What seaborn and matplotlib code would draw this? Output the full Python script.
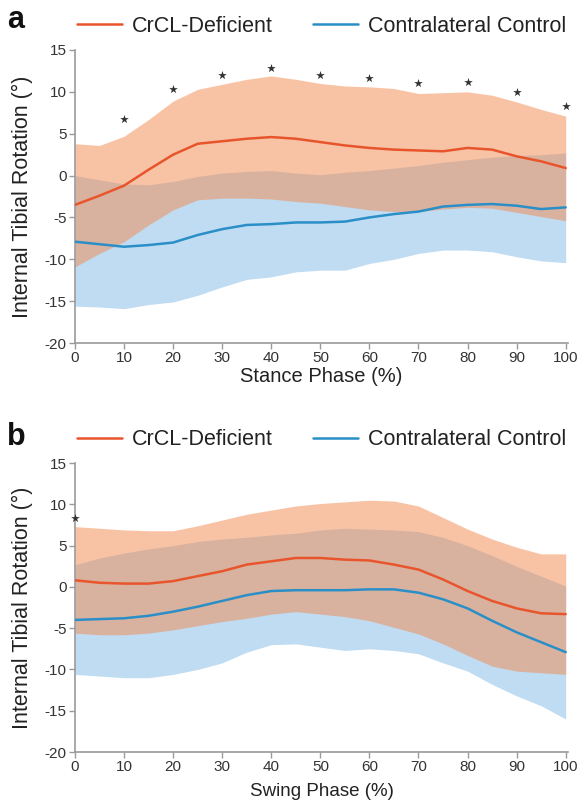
import numpy as np
import pandas as pd
import matplotlib
matplotlib.use("Agg")
import matplotlib.pyplot as plt
import seaborn as sns

# phase (%) sampled every 5 %
phase = [0, 5, 10, 15, 20, 25, 30, 35, 40, 45, 50, 55, 60, 65, 70, 75, 80, 85, 90, 95, 100]

# a: stance phase
crcl_mean_a = [-3.5, -2.4, -1.2, 0.7, 2.5, 3.8, 4.1, 4.4, 4.6, 4.4, 4.0, 3.6, 3.3, 3.1, 3.0, 2.9, 3.3, 3.1, 2.3, 1.7, 0.9]
crcl_upper_a = [3.8, 3.6, 4.7, 6.7, 8.9, 10.3, 10.9, 11.5, 11.9, 11.5, 11.0, 10.7, 10.6, 10.4, 9.8, 9.9, 10.0, 9.6, 8.8, 7.9, 7.1]
crcl_lower_a = [-10.9, -9.3, -7.9, -5.9, -4.1, -2.9, -2.7, -2.7, -2.8, -3.1, -3.3, -3.7, -4.1, -4.3, -4.3, -4.0, -3.8, -3.9, -4.4, -4.9, -5.4]
ctrl_mean_a = [-7.9, -8.2, -8.5, -8.3, -8.0, -7.1, -6.4, -5.9, -5.8, -5.6, -5.6, -5.5, -5.0, -4.6, -4.3, -3.7, -3.5, -3.4, -3.6, -4.0, -3.8]
ctrl_upper_a = [0.0, -0.5, -1.0, -1.1, -0.7, -0.1, 0.3, 0.5, 0.6, 0.3, 0.1, 0.4, 0.6, 0.9, 1.2, 1.6, 1.9, 2.2, 2.4, 2.5, 2.7]
ctrl_lower_a = [-15.6, -15.7, -15.9, -15.4, -15.1, -14.3, -13.3, -12.4, -12.1, -11.5, -11.3, -11.3, -10.5, -10.0, -9.3, -8.9, -8.9, -9.1, -9.7, -10.2, -10.4]
star_x_a = [10, 20, 30, 40, 50, 60, 70, 80, 90, 100]
star_y_a = [6.7, 10.4, 12.0, 12.8, 12.0, 11.6, 11.0, 11.2, 10.0, 8.3]

# b: swing phase
crcl_mean_b = [0.8, 0.5, 0.4, 0.4, 0.7, 1.3, 1.9, 2.7, 3.1, 3.5, 3.5, 3.3, 3.2, 2.7, 2.1, 0.9, -0.5, -1.7, -2.6, -3.2, -3.3]
crcl_upper_b = [7.3, 7.1, 6.9, 6.8, 6.8, 7.4, 8.1, 8.8, 9.3, 9.8, 10.1, 10.3, 10.5, 10.4, 9.8, 8.4, 7.0, 5.8, 4.8, 4.0, 4.0]
crcl_lower_b = [-5.6, -5.8, -5.8, -5.6, -5.2, -4.7, -4.2, -3.8, -3.3, -3.0, -3.3, -3.6, -4.1, -4.9, -5.7, -6.9, -8.3, -9.6, -10.2, -10.4, -10.6]
ctrl_mean_b = [-4.0, -3.9, -3.8, -3.5, -3.0, -2.4, -1.7, -1.0, -0.5, -0.4, -0.4, -0.4, -0.3, -0.3, -0.7, -1.5, -2.6, -4.1, -5.5, -6.7, -7.9]
ctrl_upper_b = [2.7, 3.5, 4.1, 4.6, 5.0, 5.5, 5.8, 6.0, 6.3, 6.5, 6.9, 7.1, 7.0, 6.9, 6.7, 6.0, 5.0, 3.8, 2.5, 1.3, 0.1]
ctrl_lower_b = [-10.6, -10.8, -11.0, -11.0, -10.6, -10.0, -9.2, -7.9, -7.0, -6.9, -7.3, -7.7, -7.5, -7.7, -8.1, -9.2, -10.2, -11.8, -13.2, -14.4, -16.0]
star_x_b = [0]
star_y_b = [8.4]

xticks = [0, 10, 20, 30, 40, 50, 60, 70, 80, 90, 100]
yticks = [-20, -15, -10, -5, 0, 5, 10, 15]

# colours
orange_line = '#E8552C'
orange_fill = '#F3894D'
blue_line = '#2B8FC7'
blue_fill = '#C0DCF2'
axis_grey = '#9A9A9A'

sns.set_style('ticks')
plt.rcParams['font.family'] = ['Liberation Sans', 'DejaVu Sans']
plt.rcParams['axes.unicode_minus'] = False

fig = plt.figure(figsize=(5.85, 8.05), dpi=100)
ax_a = fig.add_axes([0.1282, 0.5739, 0.843, 0.364])
ax_b = fig.add_axes([0.1282, 0.0658, 0.843, 0.359])


def draw_panel(ax, cr_mean, cr_up, cr_lo, cc_mean, cc_up, cc_lo, sx, sy, xlabel, xlabel_size, xlabel_pad):
    df = pd.DataFrame({'phase': phase, 'crcl': cr_mean, 'ctrl': cc_mean})
    ax.fill_between(phase, cc_lo, cc_up, color=blue_fill, linewidth=0, zorder=1)
    ax.fill_between(phase, cr_lo, cr_up, color=orange_fill, alpha=0.5, linewidth=0, zorder=2)
    sns.lineplot(data=df, x='phase', y='ctrl', color=blue_line, linewidth=1.8, ax=ax,
                 label='Contralateral Control', zorder=3)
    sns.lineplot(data=df, x='phase', y='crcl', color=orange_line, linewidth=1.8, ax=ax,
                 label='CrCL-Deficient', zorder=4)
    ax.scatter(sx, sy, marker='*', s=42, color='#333333', linewidths=0, zorder=5, clip_on=False)

    ax.set_xlim(0, 100.5)
    ax.set_ylim(-20, 15)
    ax.set_xticks(xticks)
    ax.set_yticks(yticks)
    sns.despine(ax=ax)
    for side in ['left', 'bottom']:
        ax.spines[side].set_color(axis_grey)
        ax.spines[side].set_linewidth(1.2)
    ax.tick_params(axis='both', colors=axis_grey, labelcolor='#333333', labelsize=11,
                   length=4, width=1, direction='out', pad=2)
    ax.set_xlabel(xlabel, fontsize=xlabel_size, color='#222222', labelpad=xlabel_pad)
    ax.set_ylabel('Internal Tibial Rotation (°)', fontsize=15.5, color='#222222')
    ax.yaxis.set_label_coords(-0.085, 0.5)

    handles, labels = ax.get_legend_handles_labels()
    order = [labels.index('CrCL-Deficient'), labels.index('Contralateral Control')]
    ax.legend([handles[i] for i in order], [labels[i] for i in order],
              loc='lower center', bbox_to_anchor=(0.5, 1.015), ncol=2, frameon=False,
              fontsize=15.5, handlelength=2.1, handletextpad=0.45, columnspacing=1.85,
              borderaxespad=0, labelcolor='#222222')


draw_panel(ax_a, crcl_mean_a, crcl_upper_a, crcl_lower_a, ctrl_mean_a, ctrl_upper_a, ctrl_lower_a,
           star_x_a, star_y_a, 'Stance Phase (%)', 14.5, 1)
draw_panel(ax_b, crcl_mean_b, crcl_upper_b, crcl_lower_b, ctrl_mean_b, ctrl_upper_b, ctrl_lower_b,
           star_x_b, star_y_b, 'Swing Phase (%)', 13.5, 6)

fig.text(0.012, 0.965, 'a', fontsize=22, fontweight='bold', color='#111111', va='baseline')
fig.text(0.012, 0.447, 'b', fontsize=22, fontweight='bold', color='#111111', va='baseline')

fig.savefig('out.png', dpi=100)
